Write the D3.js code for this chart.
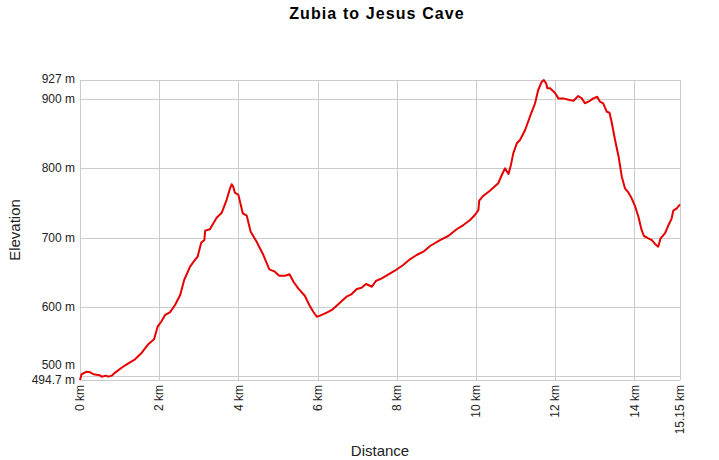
<!DOCTYPE html>
<html>
<head>
<meta charset="utf-8">
<script src="https://cdn.jsdelivr.net/npm/d3@7"></script>
<style>
  html, body { margin: 0; padding: 0; background: #fff; }
  svg { display: block; font-family: "Liberation Sans", Arial, sans-serif; }
</style>
</head>
<body>
<svg id="chart" width="719" height="460"></svg>
<script>
const title = "Zubia to Jesus Cave";
const xTitle = "Distance";
const yTitle = "Elevation";

const distanceKm = [0,0.04,0.17,0.25,0.34,0.5,0.55,0.65,0.72,0.8,
  0.88,1.05,1.22,1.39,1.56,1.73,1.87,1.96,2.05,2.15,
  2.27,2.40,2.53,2.63,2.78,2.90,2.97,3.06,3.14,3.16,
  3.28,3.45,3.58,3.70,3.79,3.83,3.87,3.91,4.0,4.11,
  4.21,4.31,4.46,4.63,4.78,4.92,5.03,5.18,5.29,5.39,
  5.51,5.68,5.79,5.89,5.98,6.06,6.23,6.36,6.48,6.61,
  6.73,6.86,6.99,7.11,7.22,7.28,7.37,7.47,7.62,7.79,
  7.95,8.16,8.33,8.50,8.67,8.84,9.09,9.30,9.51,9.68,
  9.85,9.97,10.06,10.08,10.18,10.35,10.56,10.65,10.73,10.82,
  10.88,10.94,11.03,11.11,11.24,11.36,11.49,11.57,11.66,11.71,
  11.77,11.80,11.87,11.99,12.08,12.20,12.36,12.46,12.58,12.67,
  12.75,12.88,12.96,13.06,13.13,13.21,13.30,13.37,13.43,13.51,
  13.60,13.68,13.76,13.85,13.93,14.02,14.10,14.18,14.24,14.35,
  14.44,14.52,14.60,14.66,14.77,14.85,14.94,14.98,15.07,15.15];

const elevationM = [494.7,503,506.7,506,503,501.5,499.5,501,499.5,501,
  505,512.4,518.7,524.5,534,546.6,553.3,571.5,578.7,588.4,
  592.2,602.8,617.2,638.8,658,667.6,672.4,692.5,696.4,709.9,
  711.9,728.6,735.8,754,771,776.7,773.2,764.6,761.3,734.9,
  731.5,708.4,694,674.8,654.2,650.8,645,645,647,636.3,
  626.8,615.7,602.8,593.1,585.9,587.4,591.7,595.6,601.8,608.5,
  614.7,618.6,625.8,627.7,633,631.6,629.1,637.4,641.2,647,
  652.2,660.4,668.6,674.8,679.6,687.8,696.4,702.2,711.9,718,
  725.3,732.5,739.7,753.1,759.9,767.5,778.1,790.1,799.7,791.6,
  804.5,821.3,835.8,840.5,854.9,874.1,893.4,912.6,924.6,927,
  922.2,915,915,908.7,900.5,900.5,898.2,897.2,903.9,900.5,
  893.4,897.2,900.5,902.9,895.7,893.4,881.3,879.9,864.6,840.5,
  816.5,787.7,771,764.6,756.5,744.4,730,710.9,702.2,698.9,
  696.4,690.7,686.8,698.9,706.1,716.6,727.7,738.7,742.1,747.9];

const xTicks = [0, 2, 4, 6, 8, 10, 12, 14, 15.15];
const yTicks = [494.7, 500, 600, 700, 800, 900, 927];
const yDomain = [494.7, 927];
const xDomain = [0, 15.15];

const data = distanceKm.map((d, i) => ({ d, e: elevationM[i] }));

const svg = d3.select("#chart");
const margin = { left: 80, right: 39, top: 80, bottom: 80 };
const W = 719, H = 460;
const x = d3.scaleLinear().domain(xDomain).range([margin.left, W - margin.right]);
const y = d3.scaleLinear().domain(yDomain).range([H - margin.bottom, margin.top]);

const gridColor = "#cccccc";
const textColor = "#222";

// horizontal grid
svg.append("g").selectAll("line").data(yTicks).join("line")
  .attr("x1", x(xDomain[0])).attr("x2", x(xDomain[1]))
  .attr("y1", d => Math.round(y(d)) + 0.5).attr("y2", d => Math.round(y(d)) + 0.5)
  .attr("stroke", gridColor).attr("stroke-width", 1);

// vertical grid
svg.append("g").selectAll("line").data(xTicks).join("line")
  .attr("x1", d => Math.round(x(d)) + 0.5).attr("x2", d => Math.round(x(d)) + 0.5)
  .attr("y1", y(yDomain[1])).attr("y2", y(yDomain[0]))
  .attr("stroke", gridColor).attr("stroke-width", 1);

// y labels (the two lowest are nudged apart so they do not collide)
const fmtY = d => (Number.isInteger(d) ? d : d.toFixed(1)) + " m";
const yNudge = v => v === 500 ? -11.3 : (v === 494.7 ? -0.5 : (v === 927 ? -1 : 0));
svg.append("g").selectAll("text").data(yTicks).join("text")
  .attr("x", margin.left - 5)
  .attr("y", d => y(d) + yNudge(d))
  .attr("dy", "0.35em")
  .attr("text-anchor", "end")
  .attr("font-size", 12)
  .attr("fill", textColor)
  .text(fmtY);

// x labels rotated
const fmtX = d => d + " km";
svg.append("g").selectAll("text").data(xTicks).join("text")
  .attr("transform", d => `translate(${x(d)},${y(yDomain[0]) + 5}) rotate(-90)`)
  .attr("text-anchor", "end")
  .attr("dy", "0.35em")
  .attr("font-size", 12)
  .attr("fill", textColor)
  .text(fmtX);

// line
const line = d3.line().x(p => x(p.d)).y(p => y(p.e)).curve(d3.curveLinear);
svg.append("path").datum(data)
  .attr("d", line)
  .attr("fill", "none")
  .attr("stroke", "#e60000")
  .attr("stroke-width", 2)
  .attr("stroke-linejoin", "round");

// title
svg.append("text")
  .attr("x", 377).attr("y", 19)
  .attr("text-anchor", "middle")
  .attr("font-size", 16).attr("font-weight", "bold")
  .attr("letter-spacing", "1.1px")
  .attr("fill", "#000")
  .text(title);

// axis titles
svg.append("text")
  .attr("x", 380).attr("y", 456)
  .attr("text-anchor", "middle")
  .attr("font-size", 15)
  .attr("fill", textColor)
  .text(xTitle);

svg.append("text")
  .attr("transform", `translate(20,${(margin.top + H - margin.bottom) / 2}) rotate(-90)`)
  .attr("text-anchor", "middle")
  .attr("font-size", 15)
  .attr("fill", textColor)
  .text(yTitle);
</script>
</body>
</html>
